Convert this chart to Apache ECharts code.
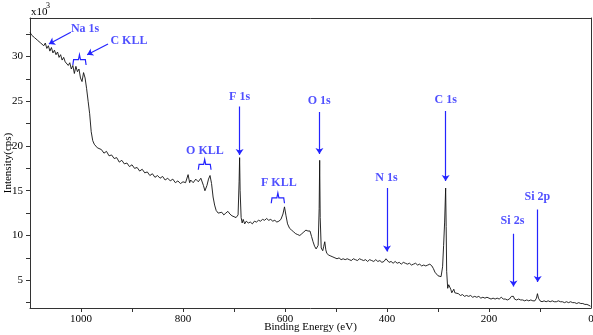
<!DOCTYPE html>
<html>
<head>
<meta charset="utf-8">
<script src="https://cdn.jsdelivr.net/npm/echarts@6/dist/echarts.min.js"></script>
<style>
    html, body { margin: 0; padding: 0; background: #fff; }
    #main_xps { width: 593px; height: 335px; }
</style>
</head>
<body>
<div id="main_xps"></div>
<script>
// binding energy (eV) and intensity (x10^3 cps)
var energy = [1100, 1097, 1094, 1091, 1088, 1085, 1082, 1079, 1076, 1073, 1070, 1067, 1064, 1061, 1058, 1055, 1052, 1049, 1046, 1043,
    1040, 1037, 1034, 1031, 1028, 1025, 1022, 1019, 1016, 1013, 1010, 1007, 1004, 1001, 998, 995, 992, 989, 986, 983,
    980, 977, 974, 971, 968, 965, 960, 955, 950, 945, 940, 935, 930, 925, 920, 915, 910, 905, 900, 895,
    890, 885, 880, 875, 870, 865, 860, 855, 850, 845, 840, 835, 830, 825, 820, 815, 810, 805, 800, 795,
    790, 787, 785, 780, 775, 770, 765, 760, 757, 753, 750, 747, 744, 741, 738, 735, 731, 728, 724, 720,
    716, 712, 708, 704, 700, 696, 692, 690, 689, 688, 686, 684, 682, 679, 676, 672, 668, 664, 660, 656,
    652, 648, 644, 640, 636, 632, 628, 624, 620, 616, 612, 608, 604, 601, 598, 595, 591, 587, 583, 579,
    575, 571, 567, 563, 559, 555, 551, 548, 545, 542, 539, 537, 535, 533, 532, 531, 529, 526, 524, 522,
    520, 518, 514, 510, 506, 502, 498, 494, 490, 486, 482, 478, 474, 470, 466, 462, 458, 454, 450, 446,
    442, 438, 434, 430, 426, 422, 418, 414, 410, 406, 402, 399, 396, 392, 388, 384, 380, 376, 372, 368,
    364, 360, 356, 352, 348, 344, 340, 336, 332, 328, 324, 320, 316, 312, 309, 306, 303, 300, 297, 294,
    291, 289, 287, 285, 284, 283, 281, 279, 277, 275, 273, 271, 269, 267, 264, 260, 256, 252, 248, 244,
    240, 236, 232, 228, 224, 220, 216, 212, 208, 204, 200, 196, 192, 188, 184, 180, 176, 172, 168, 164,
    160, 156, 154, 152, 150, 146, 142, 138, 134, 130, 126, 122, 118, 114, 110, 107, 105, 103, 100, 96,
    92, 88, 84, 80, 76, 72, 68, 64, 60, 56, 52, 48, 44, 40, 36, 32, 28, 24, 20, 16,
    12, 8, 4, 1];
var counts = [32.7, 32.4, 32.5, 32.1, 32.2, 31.8, 31.9, 31.5, 31.7, 31.2, 31.5, 30.9, 31.2, 30.6, 31.0, 30.4, 30.7, 30.2, 30.5, 29.9,
    30.2, 29.6, 29.9, 29.4, 29.6, 29.0, 29.3, 28.6, 29.0, 28.1, 28.9, 28.3, 28.6, 27.6, 27.2, 28.2, 27.6, 26.4, 25.0, 23.6,
    21.6, 20.6, 20.2, 20.0, 19.8, 19.7, 19.6, 19.2, 19.4, 18.9, 19.0, 18.6, 18.7, 18.2, 18.4, 18.0, 18.1, 17.7, 17.9, 17.5,
    17.6, 17.2, 17.4, 17.0, 17.1, 16.7, 16.9, 16.5, 16.7, 16.4, 16.6, 16.2, 16.4, 16.1, 16.3, 15.9, 16.1, 15.8, 16.0, 15.9,
    16.8, 15.9, 16.2, 15.9, 16.3, 16.0, 16.4, 15.6, 15.0, 15.6, 16.3, 16.7, 15.8, 14.3, 13.4, 12.8, 12.5, 12.4, 12.6, 12.3,
    12.5, 12.7, 12.4, 12.2, 12.1, 12.0, 12.3, 16.0, 18.7, 15.0, 12.0, 11.4, 11.8, 11.3, 11.6, 11.4, 11.5, 11.3, 11.6, 11.5,
    11.7, 11.6, 11.8, 11.7, 11.9, 11.7, 11.8, 11.6, 11.7, 11.5, 11.6, 11.8, 12.4, 13.2, 12.2, 11.3, 10.8, 10.6, 10.4, 10.2,
    10.1, 10.0, 10.2, 10.4, 10.6, 10.5, 10.5, 9.9, 9.3, 8.8, 8.5, 8.3, 8.9, 13.0, 18.4, 12.0, 8.6, 8.3, 8.8, 9.3,
    8.4, 8.0, 7.8, 7.7, 7.6, 7.5, 7.4, 7.5, 7.3, 7.4, 7.3, 7.4, 7.3, 7.2, 7.4, 7.3, 7.2, 7.4, 7.3, 7.2,
    7.3, 7.1, 7.3, 7.2, 7.1, 7.3, 7.1, 7.2, 7.0, 7.1, 7.4, 7.2, 7.0, 7.1, 6.9, 7.1, 6.9, 7.0, 6.8, 7.0,
    6.9, 6.8, 6.9, 6.7, 6.8, 6.9, 6.7, 6.8, 6.6, 6.7, 6.6, 6.7, 6.8, 6.6, 6.3, 5.9, 5.7, 5.5, 5.3, 5.4,
    6.5, 8.9, 11.5, 15.3, 11.0, 6.0, 4.1, 4.5, 4.7, 4.0, 3.6, 3.7, 4.0, 3.6, 3.4, 3.5, 3.3, 3.4, 3.2, 3.3,
    3.2, 3.3, 3.1, 3.2, 3.1, 3.2, 3.0, 3.1, 3.0, 3.1, 3.0, 2.9, 3.0, 2.9, 3.0, 2.9, 3.1, 2.9, 2.9, 2.8,
    2.9, 3.2, 3.4, 3.2, 2.9, 2.8, 2.9, 2.8, 2.8, 2.7, 2.8, 2.7, 2.8, 2.7, 2.7, 3.0, 3.5, 3.0, 2.7, 2.6,
    2.7, 2.6, 2.7, 2.6, 2.7, 2.6, 2.6, 2.7, 2.6, 2.6, 2.5, 2.6, 2.5, 2.6, 2.5, 2.5, 2.4, 2.5, 2.4, 2.4,
    2.3, 2.3, 2.2, 2.1];

// axis ticks
var xLabels = [0, 200, 400, 600, 800, 1000];
var xTicks = [100, 200, 300, 400, 500, 600, 700, 800, 900, 1000];
var yLabels = [5, 10, 15, 20, 25, 30];
var yTicks = [2.5, 5, 7.5, 10, 12.5, 15, 17.5, 20, 22.5, 25, 27.5, 30, 32.5];

// peak labels: name, label position [eV, k], arrow from/to [eV, k]
var peakNames = ['Na 1s', 'C KLL', 'F 1s', 'O 1s', 'N 1s', 'C 1s', 'Si 2s', 'Si 2p', 'O KLL', 'F KLL'];
var peakText = [[992, 33.1], [906, 31.7], [689, 25.5], [533, 25.0], [401, 16.4], [285, 25.1], [154, 11.6], [105, 14.3], [757, 19.4], [612, 15.9]];
var peakArrows = [
    [[1020, 32.7], [1063, 31.4]],
    [[947, 31.4], [988, 30.2]],
    [[689, 24.4], [689, 19.0]],
    [[532.5, 23.8], [532.5, 19.1]],
    [[400, 15.3], [400, 8.2]],
    [[285, 23.9], [285, 16.1]],
    [[152, 10.2], [152, 4.3]],
    [[104.5, 12.9], [104.5, 4.8]]
];
// brackets over the Auger groups: [left eV, right eV, base k]
var brackets = [[1016, 990, 29.65], [770, 745, 17.95], [627, 601, 14.2]];

var blue = '#2424ff';

function bracketLines() {
    var out = [];
    for (var i = 0; i < brackets.length; i++) {
        var l = brackets[i][0], r = brackets[i][1], b = brackets[i][2];
        var c = (l + r) / 2;
        out.push({
            coords: [[l, b - 0.6], [l - 1.5, b], [c + 2, b], [c, b + 0.55], [c - 2, b], [r + 1.5, b], [r, b - 0.6]]
        });
    }
    return out;
}

function chartXpsShow() {
    var myChart = echarts.init(document.getElementById('main_xps'));

    var spectrum = [];
    for (var i = 0; i < energy.length; i++) {
        spectrum.push([energy[i], counts[i]]);
    }
    var arrows = [];
    for (var j = 0; j < peakArrows.length; j++) {
        arrows.push({coords: peakArrows[j]});
    }
    var texts = [];
    for (var k = 0; k < peakNames.length; k++) {
        texts.push({name: peakNames[k], value: peakText[k]});
    }

    var font = '"Liberation Serif", "Times New Roman", serif';
    // 顶部和右侧只画边框线
    var frameX = {
        type: 'value', inverse: true, min: 0, max: 1100, position: 'top',
        axisLine: {show: true, onZero: false, lineStyle: {color: '#333', width: 1}},
        axisTick: {show: false}, axisLabel: {show: false}, splitLine: {show: false}
    };
    var frameY = {
        type: 'value', min: 1.9, max: 34.3, position: 'right',
        axisLine: {show: true, onZero: false, lineStyle: {color: '#333', width: 1}},
        axisTick: {show: false}, axisLabel: {show: false}, splitLine: {show: false}
    };
    var option = {
        animation: false,
        textStyle: {fontFamily: font},
        grid: {
            left: 30, right: 2, top: 18, bottom: 27,
            outerBoundsMode: 'none',
            containLabel: false
        },
        graphic: [
            {type: 'text', left: 31, top: 7, style: {text: 'x10', font: '11px ' + font, fill: '#000'}},
            {type: 'text', left: 46, top: 2, style: {text: '3', font: '8px ' + font, fill: '#000'}}
        ],
        xAxis: [{
            type: 'value',
            inverse: true,
            min: 0,
            max: 1100,
            position: 'bottom',
            name: 'Binding Energy (eV)',
            nameLocation: 'middle',
            nameGap: 14,
            nameMoveOverlap: false,
            nameTextStyle: {color: '#000', fontSize: 11, fontFamily: font},
            axisLine: {onZero: false, lineStyle: {color: '#333', width: 1}},
            axisTick: {length: 4, inside: false, customValues: xTicks, lineStyle: {color: '#333'}},
            axisLabel: {
                customValues: xLabels, color: '#000', fontSize: 11, margin: 6, fontFamily: font,
                formatter: function (v) { return String(v); }
            },
            splitLine: {show: false},
            minorTick: {show: false}
        }, frameX],
        yAxis: [{
            type: 'value',
            min: 1.9,
            max: 34.3,
            position: 'left',
            name: 'Intensity(cps)',
            nameLocation: 'middle',
            nameGap: 16,
            nameMoveOverlap: false,
            nameTextStyle: {color: '#000', fontSize: 11, fontFamily: font},
            axisLine: {show: true, onZero: false, lineStyle: {color: '#333', width: 1}},
            axisTick: {show: true, inside: false, length: 4, customValues: yTicks, lineStyle: {color: '#333'}},
            axisLabel: {customValues: yLabels, color: '#000', fontSize: 11, margin: 7, fontFamily: font},
            splitLine: {show: false},
            minorTick: {show: false}
        }, frameY],
        series: [
            {
                name: 'survey',
                type: 'line',
                data: spectrum,
                showSymbol: false,
                symbol: 'none',
                lineStyle: {color: '#111', width: 0.9},
                z: 2
            },
            {
                name: 'arrows',
                type: 'lines',
                coordinateSystem: 'cartesian2d',
                symbol: ['none', 'arrow'],
                symbolSize: 6,
                lineStyle: {color: blue, width: 1.2, opacity: 1},
                data: arrows,
                silent: true,
                z: 3
            },
            {
                name: 'brackets',
                type: 'lines',
                coordinateSystem: 'cartesian2d',
                polyline: true,
                lineStyle: {color: blue, width: 1.2, opacity: 1},
                data: bracketLines(),
                silent: true,
                z: 3
            },
            {
                name: 'labels',
                type: 'scatter',
                symbolSize: 0,
                data: texts,
                silent: true,
                label: {
                    show: true,
                    position: 'inside',
                    formatter: '{b}',
                    color: blue,
                    fontSize: 12,
                    fontWeight: 'bold',
                    fontFamily: font
                },
                z: 4
            }
        ]
    };
    myChart.setOption(option);
}

chartXpsShow();
</script>
</body>
</html>
